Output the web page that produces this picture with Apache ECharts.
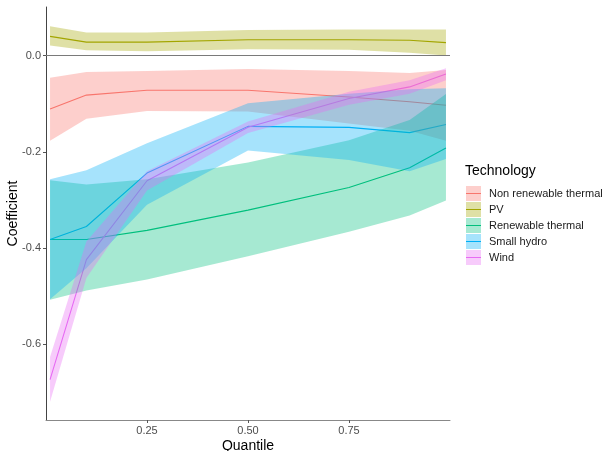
<!DOCTYPE html>
<html>
<head>
<meta charset="utf-8">
<script src="https://cdn.jsdelivr.net/npm/echarts@6/dist/echarts.min.js"></script>
<style>
  html, body { margin: 0; padding: 0; background: #fff; }
  #chart { width: 605px; height: 451px; }
</style>
</head>
<body>
<div id="chart"></div>
<script>
// Quantile regression coefficients by technology, with confidence bands
const quantiles = [0.01, 0.1, 0.25, 0.5, 0.75, 0.9, 0.99];
const technologies = ['Non renewable thermal', 'PV', 'Renewable thermal', 'Small hydro', 'Wind'];
const colors = ['#F8766D', '#A3A500', '#00BF7D', '#00B0F6', '#E76BF3'];

const nrtEst   = [-0.111, -0.082, -0.072, -0.072, -0.086, -0.096, -0.103];
const nrtLower = [-0.177, -0.131, -0.115, -0.116, -0.141, -0.156, -0.177];
const nrtUpper = [-0.046, -0.034, -0.032, -0.028, -0.032, -0.036, -0.030];

const pvEst    = [0.040, 0.028, 0.028, 0.033, 0.033, 0.032, 0.027];
const pvLower  = [0.021, 0.011, 0.009, 0.013, 0.012, 0.006, 0.000];
const pvUpper  = [0.061, 0.048, 0.048, 0.053, 0.054, 0.054, 0.054];

const rtEst    = [-0.382, -0.382, -0.363, -0.321, -0.274, -0.233, -0.192];
const rtLower  = [-0.507, -0.488, -0.465, -0.417, -0.366, -0.332, -0.301];
const rtUpper  = [-0.259, -0.268, -0.257, -0.222, -0.176, -0.134, -0.080];

const shEst    = [-0.382, -0.355, -0.244, -0.147, -0.149, -0.160, -0.143];
const shLower  = [-0.506, -0.442, -0.310, -0.197, -0.217, -0.240, -0.215];
const shUpper  = [-0.257, -0.238, -0.182, -0.099, -0.079, -0.070, -0.068];

const windEst   = [-0.673, -0.424, -0.260, -0.149, -0.089, -0.065, -0.038];
const windLower = [-0.719, -0.462, -0.280, -0.161, -0.102, -0.079, -0.051];
const windUpper = [-0.626, -0.386, -0.240, -0.137, -0.075, -0.051, -0.026];

const yTicks = [-0.6, -0.4, -0.2, 0];
const xTicks = [0.25, 0.5, 0.75];

const estimates = [nrtEst, pvEst, rtEst, shEst, windEst];
const lowers = [nrtLower, pvLower, rtLower, shLower, windLower];
const uppers = [nrtUpper, pvUpper, rtUpper, shUpper, windUpper];

const FILL_ALPHA = 0.35;
function fillColor(hex) {
  const r = parseInt(hex.slice(1, 3), 16), g = parseInt(hex.slice(3, 5), 16), b = parseInt(hex.slice(5, 7), 16);
  return 'rgba(' + r + ',' + g + ',' + b + ',' + FILL_ALPHA + ')';
}

const FONT = '"Liberation Sans", Arial, Helvetica, sans-serif';

const lineSeries = technologies.map((name, i) => ({
  name: name,
  type: 'line',
  z: 2,
  data: quantiles.map((q, k) => [q, estimates[i][k]]),
  showSymbol: false,
  symbol: 'none',
  lineStyle: { color: colors[i], width: 1.1 },
  itemStyle: { color: colors[i] },
  emphasis: { disabled: true },
  silent: true,
  animation: false
}));

// Ribbon drawn as a single polygon: lower edge left-to-right, upper edge back
const bandSeries = technologies.map((name, i) => ({
  name: name,
  type: 'custom',
  z: 3,
  silent: true,
  animation: false,
  data: quantiles.map((q, k) => [q, lowers[i][k], uppers[i][k]]),
  encode: { x: 0, y: [1, 2] },
  itemStyle: { color: fillColor(colors[i]) },
  renderItem: function (params, api) {
    if (params.dataIndex !== 0) return null;
    const pts = [];
    for (let k = 0; k < quantiles.length; k++) pts.push(api.coord([quantiles[k], lowers[i][k]]));
    for (let k = quantiles.length - 1; k >= 0; k--) pts.push(api.coord([quantiles[k], uppers[i][k]]));
    return {
      type: 'polygon',
      shape: { points: pts },
      style: { fill: fillColor(colors[i]), stroke: null }
    };
  }
}));

// Reference line at zero
const zeroLine = {
  name: 'zero',
  type: 'line',
  z: 4,
  data: [],
  silent: true,
  animation: false,
  markLine: {
    silent: true,
    symbol: 'none',
    animation: false,
    label: { show: false },
    lineStyle: { color: '#7a7a7a', width: 1.2, type: 'solid' },
    data: [{ yAxis: 0 }]
  }
};

const keyLine = 'path://M0,0h0.05v0.05h-0.05z M0,6.9h15v1.2h-15z M14.95,14.95h0.05v0.05h-0.05z';

const option = {
  animation: false,
  backgroundColor: '#ffffff',
  textStyle: { fontFamily: FONT },
  grid: { left: 46, right: 155, top: 7, bottom: 31, containLabel: false, outerBoundsMode: 'none' },
  title: {
    text: 'Technology',
    left: 465,
    top: 164,
    padding: 0,
    textStyle: { fontSize: 14, fontWeight: 'normal', color: '#000', fontFamily: FONT }
  },
  legend: [
    {
      orient: 'vertical',
      left: 466,
      top: 186,
      padding: 0,
      itemWidth: 15,
      itemHeight: 15,
      itemGap: 1,
      selectedMode: false,
      textStyle: { fontSize: 11, color: '#1a1a1a', fontFamily: FONT, padding: [0, 0, 0, 3] },
      data: technologies.map((name, i) => ({
        name: name,
        icon: 'rect',
        itemStyle: { color: fillColor(colors[i]), borderWidth: 0 }
      }))
    },
    {
      orient: 'vertical',
      left: 466,
      top: 186,
      padding: 0,
      itemWidth: 15,
      itemHeight: 15,
      itemGap: 1,
      selectedMode: false,
      textStyle: { fontSize: 11, color: 'rgba(0,0,0,0)', fontFamily: FONT, padding: [0, 0, 0, 3] },
      data: technologies.map((name, i) => ({
        name: name,
        icon: keyLine,
        itemStyle: { color: colors[i], borderWidth: 0 },
        lineStyle: { width: 0 }
      }))
    }
  ],
  xAxis: {
    type: 'value',
    min: 0,
    max: 1,
    name: 'Quantile',
    nameLocation: 'middle',
    nameGap: 19,
    nameMoveOverlap: false,
    nameTextStyle: { fontSize: 14, color: '#000', fontFamily: FONT },
    axisLine: { show: true, onZero: false, lineStyle: { color: '#888', width: 1 } },
    axisTick: { show: true, length: 3, customValues: xTicks, lineStyle: { color: '#555' } },
    axisLabel: {
      customValues: xTicks,
      margin: 5,
      fontSize: 11,
      color: '#4D4D4D',
      fontFamily: FONT,
      formatter: v => v.toFixed(2)
    },
    splitLine: { show: false }
  },
  yAxis: {
    type: 'value',
    min: -0.757,
    max: 0.101,
    name: 'Coefficient',
    nameLocation: 'middle',
    nameGap: 26,
    nameMoveOverlap: false,
    nameTextStyle: { fontSize: 14, color: '#000', fontFamily: FONT },
    axisLine: { show: true, onZero: false, lineStyle: { color: '#444', width: 1 } },
    axisTick: { show: true, length: 3, customValues: yTicks, lineStyle: { color: '#555' } },
    axisLabel: {
      customValues: yTicks,
      margin: 5,
      fontSize: 11,
      color: '#4D4D4D',
      fontFamily: FONT,
      formatter: v => v.toFixed(1)
    },
    splitLine: { show: false }
  },
  series: [...lineSeries, ...bandSeries, zeroLine]
};

const chart = echarts.init(document.getElementById('chart'), null, { renderer: 'canvas' });
chart.setOption(option);
</script>
</body>
</html>
